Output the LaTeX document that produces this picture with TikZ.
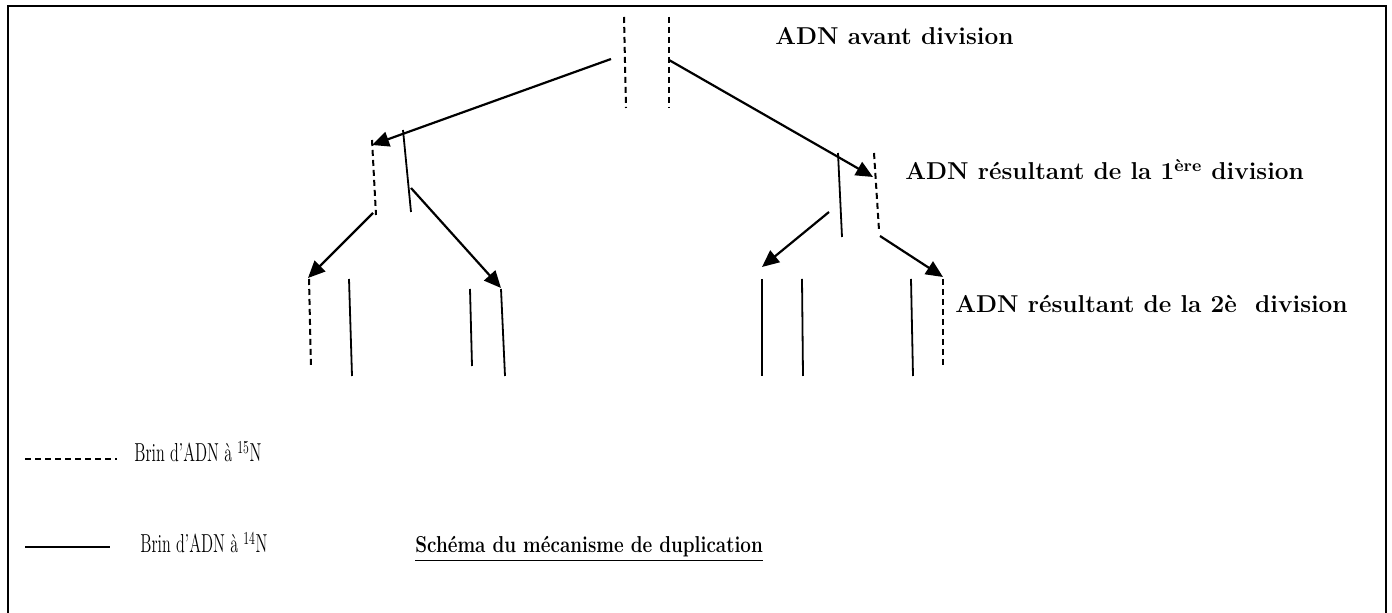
\documentclass[tikz,border=0pt]{standalone}
\usetikzlibrary{arrows.meta}
\newcommand{\etroit}[2]{\scalebox{#1}[1]{#2}}

\begin{document}
\begin{tikzpicture}[x=0.5pt,y=-0.5pt,
  brin15/.style={line width=1pt,dash pattern=on 3pt off 2pt},
  brin14/.style={line width=0.9pt},
  fleche/.style={line width=1.1pt,-{Triangle[length=8.5pt,width=7.5pt]}},
  lab/.style={anchor=base west,inner sep=0pt,font=\fontsize{12.2}{14}\selectfont\bfseries},
  leg/.style={anchor=base west,inner sep=0pt,font=\fontsize{13}{15}\selectfont}]
  \useasboundingbox (0,0) rectangle (1392,613);
  \draw[line width=1pt] (8,640) -- (8,6) -- (1386,6) -- (1386,640);
  % ADN avant division
  \coordinate (a1) at (624,17);  \coordinate (a2) at (626,108);
  \coordinate (b1) at (669,17);  \coordinate (b2) at (669,108);
  \draw[brin15] (a1) -- (a2);  \draw[brin15] (b1) -- (b2);
  \node[lab] (tavant) at (775,45) {ADN avant division};
  % 1ere division
  \coordinate (c1) at (372,140); \coordinate (c2) at (376,215);
  \coordinate (d1) at (403,130); \coordinate (d2) at (411,212);
  \coordinate (e1) at (838,153); \coordinate (e2) at (842,237);
  \coordinate (f1) at (874,153); \coordinate (f2) at (879,230);
  \draw[brin15] (c1) -- (c2);  \draw[brin14] (d1) -- (d2);
  \draw[brin14] (e1) -- (e2);  \draw[brin15] (f1) -- (f2);
  \node[lab] (tdiv1) at (905,180) {ADN résultant de la 1\textsuperscript{ère} division};
  % 2e division
  \coordinate (g1) at (309,279); \coordinate (g2) at (311,368);
  \coordinate (h1) at (349,279); \coordinate (h2) at (352,376);
  \coordinate (i1) at (470,289); \coordinate (i2) at (472,366);
  \coordinate (j1) at (501,289); \coordinate (j2) at (505,376);
  \coordinate (k1) at (762,279); \coordinate (k2) at (762,376);
  \coordinate (l1) at (802,279); \coordinate (l2) at (803,376);
  \coordinate (m1) at (911,279); \coordinate (m2) at (913,376);
  \coordinate (n1) at (943,279); \coordinate (n2) at (943,368);
  \draw[brin15] (g1) -- (g2);  \draw[brin14] (h1) -- (h2);
  \draw[brin14] (i1) -- (i2);  \draw[brin14] (j1) -- (j2);
  \draw[brin14] (k1) -- (k2);  \draw[brin14] (l1) -- (l2);
  \draw[brin14] (m1) -- (m2);  \draw[brin15] (n1) -- (n2);
  \node[lab] (tdiv2) at (955,313) {ADN résultant de la 2è\ \ division};
  % fleches
  \coordinate (s1) at (611,59);  \coordinate (s2) at (669,60);
  \coordinate (s3) at (373,213); \coordinate (s4) at (411,188);
  \coordinate (s5) at (829,212); \coordinate (s6) at (880,236);
  \coordinate (t3) at (308,278); \coordinate (t4) at (501,288);
  \coordinate (t5) at (762,267); \coordinate (t6) at (943,277);
  \draw[fleche] (s1) -- (372,145);
  \draw[fleche] (s2) -- (873,177);
  \draw[fleche] (s3) -- (t3);  \draw[fleche] (s4) -- (t4);
  \draw[fleche] (s5) -- (t5);  \draw[fleche] (s6) -- (t6);
  % legende
  \coordinate (u1) at (25,459);  \coordinate (u2) at (117,459);
  \coordinate (v1) at (25,547);  \coordinate (v2) at (110,547);
  \draw[line width=0.7pt,dash pattern=on 3pt off 2pt] (u1) -- (u2);
  \draw[line width=0.9pt] (v1) -- (v2);
  \node[leg] (leg15) at (134,462) {\etroit{0.62}{Brin d’ADN à \textsuperscript{15}N}};
  \node[leg] (leg14) at (140,553) {\etroit{0.62}{Brin d’ADN à \textsuperscript{14}N}};
  \node[leg,font=\fontsize{11.5}{14}\selectfont\bfseries] (titre) at (415,553) {\etroit{0.82}{\underline{Schéma du mécanisme de duplication}}};
\end{tikzpicture}
\end{document}
